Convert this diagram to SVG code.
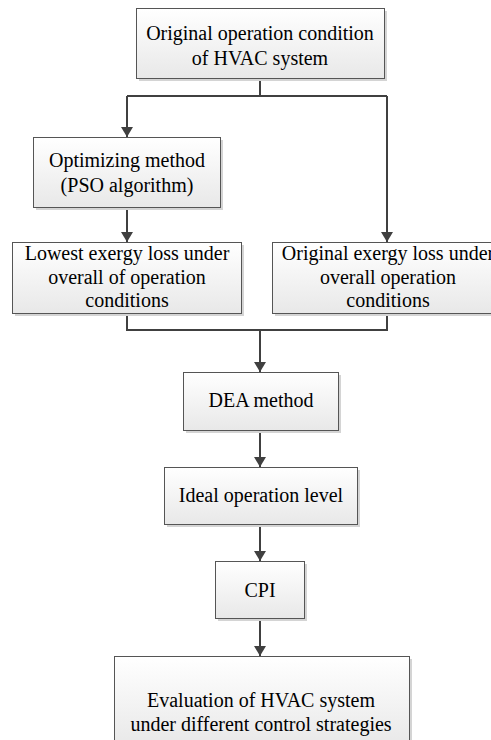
<svg xmlns="http://www.w3.org/2000/svg" width="491" height="740" viewBox="0 0 491 740">
<defs>
<linearGradient id="g" x1="0" y1="0" x2="0" y2="1">
<stop offset="0" stop-color="#ffffff"/>
<stop offset="1" stop-color="#e8e8e8"/>
</linearGradient>
<marker id="ah" markerWidth="10" markerHeight="12" refX="10" refY="6" orient="auto" markerUnits="userSpaceOnUse">
<path d="M0,0 L10,6 L0,12 Z" fill="#404040"/>
</marker>
</defs>
<style>
.sh{fill:#d4d4d4;}
.bx{fill:url(#g);stroke:#555555;stroke-width:1;}
.t{font-family:"Liberation Serif","Times New Roman",serif;font-size:20px;fill:#000;text-anchor:middle;}
.c{fill:none;stroke:#404040;stroke-width:2;}
</style>
<rect width="491" height="740" fill="#ffffff"/>
<g id="connectors">
<path class="c" d="M260,78 V96 M127,96 H387"/>
<path class="c" d="M127,96 V137" marker-end="url(#ah)"/>
<path class="c" d="M387,96 V242" marker-end="url(#ah)"/>
<path class="c" d="M127,207 V242" marker-end="url(#ah)"/>
<path class="c" d="M127,313 V330 H387 V313"/>
<path class="c" d="M260,330 V372" marker-end="url(#ah)"/>
<path class="c" d="M260,430 V467" marker-end="url(#ah)"/>
<path class="c" d="M260,524 V561" marker-end="url(#ah)"/>
<path class="c" d="M260,618 V656" marker-end="url(#ah)"/>
</g>
<g id="n1">
<rect class="sh" x="139" y="11" width="248" height="70"/>
<rect class="bx" x="136.5" y="8.5" width="248" height="70"/>
<text class="t" x="260" y="40">Original operation condition</text>
<text class="t" x="260" y="65">of HVAC system</text>
</g>
<g id="n2">
<rect class="sh" x="36" y="140" width="187" height="70"/>
<rect class="bx" x="33.5" y="137.5" width="187" height="70"/>
<text class="t" x="127" y="167">Optimizing method</text>
<text class="t" x="127" y="192">(PSO algorithm)</text>
</g>
<g id="n3">
<rect class="sh" x="15" y="245" width="229" height="71"/>
<rect class="bx" x="12.5" y="242.5" width="229" height="71"/>
<text class="t" x="127" y="260">Lowest exergy loss under</text>
<text class="t" x="127" y="284">overall of operation</text>
<text class="t" x="127" y="307">conditions</text>
</g>
<g id="n4">
<rect class="sh" x="275" y="245" width="232" height="71"/>
<rect class="bx" x="272.5" y="242.5" width="232" height="71"/>
<text class="t" x="388" y="260">Original exergy loss under</text>
<text class="t" x="388" y="284">overall operation</text>
<text class="t" x="388" y="307">conditions</text>
</g>
<g id="n5">
<rect class="sh" x="186" y="375" width="155" height="58"/>
<rect class="bx" x="183.5" y="372.5" width="155" height="58"/>
<text class="t" x="261" y="407">DEA method</text>
</g>
<g id="n6">
<rect class="sh" x="167" y="470" width="193" height="57"/>
<rect class="bx" x="164.5" y="467.5" width="193" height="57"/>
<text class="t" x="261" y="502">Ideal operation level</text>
</g>
<g id="n7">
<rect class="sh" x="218" y="564" width="89" height="57"/>
<rect class="bx" x="215.5" y="561.5" width="89" height="57"/>
<text class="t" x="260" y="597">CPI</text>
</g>
<g id="n8">
<rect class="sh" x="117" y="659" width="295" height="90"/>
<rect class="bx" x="114.5" y="656.5" width="295" height="90"/>
<text class="t" x="261" y="707">Evaluation of HVAC system</text>
<text class="t" x="261" y="731">under different control strategies</text>
</g>
</svg>
